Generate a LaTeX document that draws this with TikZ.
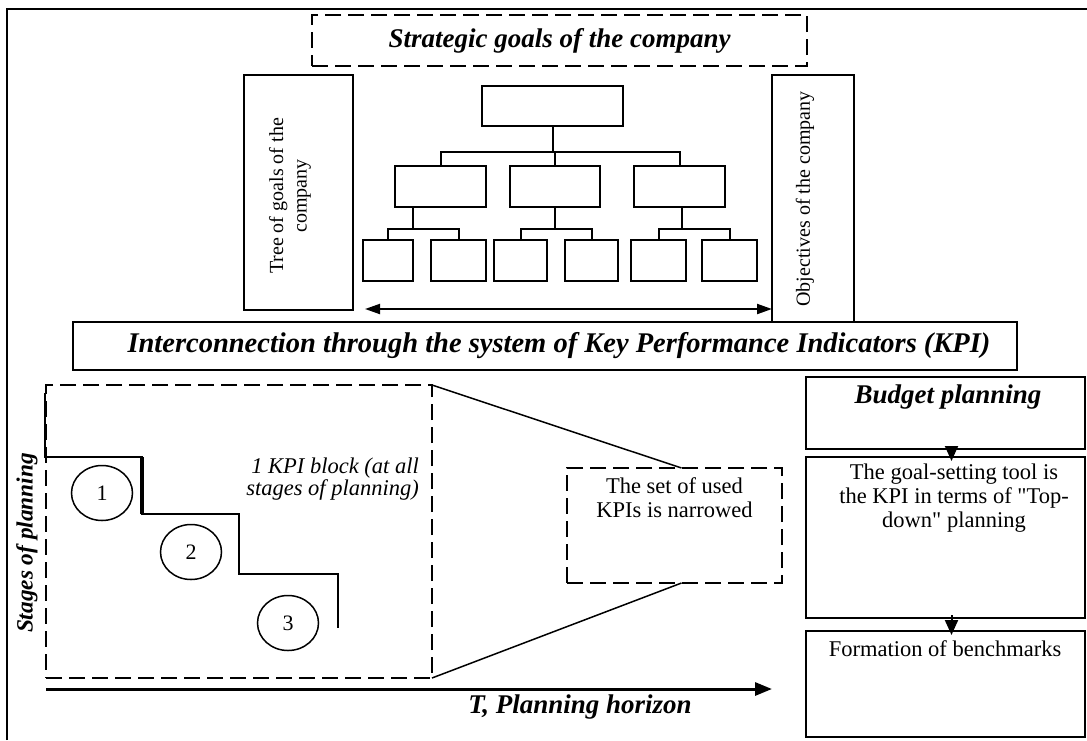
\documentclass[tikz,border=0pt]{standalone}
\usepackage{fontspec}
\setmainfont{Liberation Serif}
% same face without TeX input ligatures, for straight double quotes
\newfontfamily\straightquotes{Liberation Serif}
\usetikzlibrary{fit,arrows.meta,shapes.geometric}
\newcommand{\dq}{{\straightquotes"}}
\begin{document}
\begin{tikzpicture}[x=1pt,y=-1pt,
  frame/.style={line width=2.2pt},
  solidbox/.style={draw,line width=2pt,inner sep=0pt,outer sep=0pt},
  heavybox/.style={draw,line width=2.5pt,inner sep=0pt,outer sep=0pt},
  dashbox/.style={draw,line width=2.5pt,dash pattern=on 16pt off 7pt,inner sep=0pt,outer sep=0pt},
  treeline/.style={line width=2pt},
  heading/.style={font=\fontsize{27}{30}\selectfont\bfseries\itshape,inner sep=0pt},
  bodytext/.style={font=\fontsize{22.5}{24}\selectfont,align=center,inner sep=0pt},
  sidetext/.style={font=\fontsize{20}{23.5}\selectfont,align=center,rotate=90,inner sep=0pt},
  stage/.style={draw,ellipse,line width=1.5pt,minimum width=61pt,minimum height=55pt,inner sep=0pt,font=\fontsize{22}{24}\selectfont},
  stair/.style={line width=2.5pt},
  axis/.style={line width=3pt,-{Triangle[length=17pt,width=13pt]}},
  downtip/.style={line width=2pt,-{Triangle[length=15pt,width=13pt]},shorten >=-4pt,shorten <=-3pt},
]
\useasboundingbox (0,0) rectangle (1087,740);

% outer frame (left and top edges)
\draw[frame] (7,740) -- (7,9) -- (1087,9);

% strategic goals
\node[dashbox,fit={(312,15) (807,66)}] (goals) {};
\node[heading] at (goals.center) {Strategic goals of the company};

% side boxes
\node[solidbox,fit={(244,75) (353,310)}] (tree) {};
\node[sidetext] at (290,196) {Tree of goals of the\\company};
\node[solidbox,fit={(772,75) (854,322)}] (obj) {};
\node[sidetext] at (805,199) {Objectives of the company};

% goal tree
\node[solidbox,fit={(482,86) (623,126)}] (top) {};
\node[solidbox,fit={(395,166) (486,207)}] (m1) {};
\node[solidbox,fit={(510,166) (600,207)}] (m2) {};
\node[solidbox,fit={(634,166) (725,207)}] (m3) {};
\node[solidbox,fit={(363,240) (413,281)}] (s1) {};
\node[solidbox,fit={(431,240) (486,281)}] (s2) {};
\node[solidbox,fit={(494,240) (547,281)}] (s3) {};
\node[solidbox,fit={(565,240) (618,281)}] (s4) {};
\node[solidbox,fit={(631,240) (686,281)}] (s5) {};
\node[solidbox,fit={(702,240) (757,281)}] (s6) {};

\coordinate (hub) at (552.5,152);
\draw[treeline] (top.south) -- (hub);
\draw[treeline] (m1.north) |- (hub) -| (m3.north);
\draw[treeline] (m2.north) -- (m2.north |- hub);

\coordinate (j1) at (413,229);
\coordinate (j2) at (555,229);
\coordinate (j3) at (682,229);
\draw[treeline] (m1.south -| j1) -- (j1);
\draw[treeline] (s1.north) |- (j1) -| (s2.north);
\draw[treeline] (m2.south -| j2) -- (j2);
\draw[treeline] (s3.north) |- (j2) -| (s4.north);
\draw[treeline] (m3.south -| j3) -- (j3);
\draw[treeline] (s5.north) |- (j3) -| (s6.north);

\coordinate (al) at (365,309);
\draw[line width=2pt,{Triangle[length=15pt,width=10pt]}-{Triangle[length=15pt,width=10pt]}] (al) -- (al -| obj.west);

% KPI system
\node[solidbox,fill=white,fit={(73,322) (1017,370)}] (kpi) {};
\node[heading,font=\fontsize{28.5}{30}\selectfont\bfseries\itshape] at (559,346) {Interconnection through the system of Key Performance Indicators (KPI)};

% stages of planning
\node[dashbox,fit={(46,385) (432,678)}] (block) {};
\draw[stair] (45,393) -- (45,457) -- (142,457) -- (142,514) -- (239,514) -- (239,574) -- (338,574) -- (338,628);
\draw[line width=4.5pt] (142,457) -- (142,514);
\node[stage] (c1) at (102,493) {1};
\node[stage] (c2) at (191,552) {2};
\node[stage] (c3) at (288,623) {3};
\node[font=\fontsize{22.5}{20.5}\selectfont\itshape,align=right,inner sep=0pt,anchor=north east] at (419,458) {1 KPI block (at all\\stages of planning)};
\node[font=\fontsize{23.3}{26}\selectfont\bfseries\itshape,rotate=90,inner sep=0pt] at (27,543) {Stages of planning};

% narrowing of the KPI set
\node[dashbox,fit={(567,468) (782,583)}] (narrow) {};
\node[bodytext,anchor=north] at (674.5,477) {The set of used\\KPIs is narrowed};
\draw[line width=1.5pt] (block.north east) -- ([xshift=7pt]narrow.north);
\draw[line width=1.5pt] (block.south east) -- ([xshift=7pt]narrow.south);

% time axis
\coordinate (origin) at (46,689);
\coordinate (tend) at (772,689);
\draw[axis] (origin) -- (tend);
\node[heading,anchor=base] at (580,713) {T, Planning horizon};

% budget planning chain
\node[heavybox,fit={(806,377) (1085,449)}] (budget) {};
\node[heading,anchor=base] at (948,403) {Budget planning};
\node[heavybox,fit={(806,457) (1085,618)}] (tool) {};
\node[bodytext,anchor=north] at (954,464) {The goal-setting tool is\\the KPI in terms of \dq Top-\\down\dq\ planning};
\node[heavybox,fit={(806,631) (1085,737)}] (bench) {};
\node[bodytext,anchor=base] at (945,656) {Formation of benchmarks};
\draw[downtip] ([xshift=6pt]budget.south) -- ([xshift=6pt]tool.north);
\draw[downtip] ([xshift=6pt]tool.south) -- ([xshift=6pt]bench.north);

\end{tikzpicture}
\end{document}
